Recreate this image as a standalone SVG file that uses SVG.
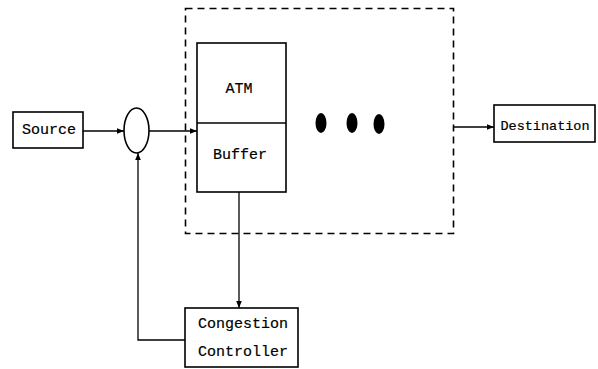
<svg xmlns="http://www.w3.org/2000/svg" width="598" height="369" viewBox="0 0 598 369">
<defs>
<style>
.box{fill:#fff;stroke:#000;stroke-width:1.6}
.ln{fill:none;stroke:#000;stroke-width:1.3}
.dash{fill:none;stroke:#000;stroke-width:1.6;stroke-dasharray:7,5}
.t{font-family:"Liberation Mono","DejaVu Sans Mono",monospace;font-size:15px;fill:#000;text-anchor:middle;dominant-baseline:central;stroke:#000;stroke-width:0.2}
.s{font-size:13.5px}
</style>
<marker id="ah" viewBox="0 0 10 10" refX="10" refY="5" markerWidth="7" markerHeight="7" orient="auto" markerUnits="userSpaceOnUse">
<path d="M0,1 L10,5 L0,9 z" fill="#000"/>
</marker>
</defs>
<rect x="0" y="0" width="598" height="369" fill="#fff"/>
<g id="system-boundary">
<rect class="dash" x="185.5" y="8.5" width="268" height="225"/>
</g>
<g id="connectors">
<line class="ln" x1="83" y1="131" x2="124" y2="131" marker-end="url(#ah)"/>
<line class="ln" x1="149" y1="131" x2="197" y2="131" marker-end="url(#ah)"/>
<line class="ln" x1="239" y1="192" x2="239" y2="308" marker-end="url(#ah)"/>
<polyline class="ln" points="185,340 138,340 138,153" marker-end="url(#ah)"/>
<line class="ln" x1="454" y1="127" x2="494" y2="127" marker-end="url(#ah)"/>
</g>
<g id="source">
<rect class="box" x="13" y="112" width="70" height="36"/>
<text class="t" x="49" y="130">Source</text>
</g>
<g id="junction">
<ellipse class="box" cx="136.5" cy="130.5" rx="12.5" ry="22.5"/>
</g>
<g id="atm-buffer">
<rect class="box" x="197" y="43" width="89" height="149"/>
<line class="ln" x1="197" y1="123" x2="286" y2="123" style="stroke-width:1.6"/>
<text class="t" x="239" y="89">ATM</text>
<text class="t" x="240" y="155">Buffer</text>
</g>
<g id="ellipsis">
<ellipse cx="321" cy="123" rx="5.5" ry="10" fill="#000"/>
<ellipse cx="352" cy="123" rx="5.5" ry="10" fill="#000"/>
<ellipse cx="379" cy="124" rx="5.5" ry="10" fill="#000"/>
</g>
<g id="destination">
<rect class="box" x="494" y="105" width="101" height="37"/>
<text class="t s" x="545" y="126">Destination</text>
</g>
<g id="congestion-controller">
<rect class="box" x="185" y="308" width="113" height="59"/>
<text class="t" x="243" y="324">Congestion</text>
<text class="t" x="243" y="352">Controller</text>
</g>
</svg>
